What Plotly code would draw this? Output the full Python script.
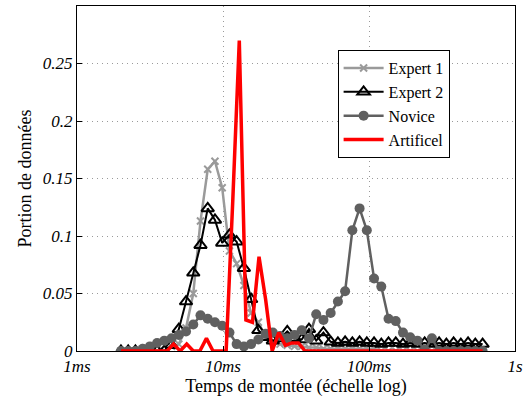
import plotly.graph_objects as go

# Bin centres (ms) shared by the three measured series
bins_ms = [2.000, 2.242, 2.512, 2.816, 3.156, 3.537, 3.965, 4.444, 4.981, 5.582,
           6.257, 7.012, 7.860, 8.809, 9.873, 11.07, 12.40, 13.90, 15.58, 17.46,
           19.57, 21.94, 24.59, 27.56, 30.89, 34.62, 38.80, 43.49, 48.74, 54.63,
           61.23, 68.62, 76.91, 86.20, 96.62, 108.3, 121.4, 136.0, 152.5, 170.9,
           191.5, 214.7, 240.6, 269.7, 302.3, 338.8, 379.7, 425.6, 477.0, 534.6, 600.0]

expert1 = [0, 0, 0, 0, 0, 0, 0, 0.004, 0.006, 0.020,
           0.050, 0.113, 0.158, 0.165, 0.142, 0.087, 0.076, 0.057, 0.033, 0.025,
           0.012, 0.008, 0.006, 0.005, 0.004, 0.004, 0.003, 0.003, 0.002, 0.002,
           0.002, 0.002, 0.002, 0.002, 0.002, 0.002, 0, 0, 0, 0,
           0, 0, 0, 0, 0, 0, 0, 0, 0, 0, 0]

expert2 = [0, 0, 0, 0, 0, 0, 0, 0.005, 0.019, 0.043,
           0.068, 0.092, 0.124, 0.114, 0.094, 0.101, 0.095, 0.072, 0.045, 0.018,
           0.012, 0.009, 0.011, 0.017, 0.011, 0.010, 0.019, 0.009, 0.016, 0.008,
           0.007, 0.008, 0.007, 0.008, 0.007, 0.007, 0.006, 0.007, 0.007, 0.006,
           0.007, 0.006, 0.007, 0.006, 0.007, 0.006, 0.007, 0.006, 0.007, 0.006, 0.006]

novice = [0, 0, 0, 0.002, 0.004, 0.007, 0.009, 0.011, 0.014, 0.017,
          0.023, 0.031, 0.028, 0.025, 0.022, 0.016, 0.006, 0.004, 0.006, 0.010,
          0.015, 0.016, 0.013, 0.011, 0.014, 0.018, 0.011, 0.032, 0.027, 0.033,
          0.043, 0.052, 0.105, 0.124, 0.105, 0.063, 0.056, 0.028, 0.026, 0.016,
          0.012, 0.009, 0.001, 0.011, 0, 0, 0, 0, 0, 0, 0]

# Artificial series has its own (finer) bins
art_ms = [2.000, 2.219, 2.461, 2.730, 3.028, 3.359, 3.726, 4.134, 4.585, 5.086,
          5.642, 6.259, 6.942, 7.701, 8.543, 9.476, 10.51, 11.66, 12.93, 14.35,
          15.92, 17.65, 19.58, 21.72, 24.10, 26.73, 29.65, 32.89, 36.49, 40.47,
          44.89, 49.80, 55.24, 61.28, 67.97, 75.40, 83.64, 92.78, 102.9, 114.2,
          126.6, 140.5, 155.8, 172.9, 191.7, 212.7, 235.9, 261.7, 290.3, 322.0,
          357.2, 396.3, 439.6, 487.6, 540.9, 600.0]
artificiel = [0, 0, 0, 0, 0, 0, 0, 0, 0.006, 0,
              0.006, 0, 0, 0.011, 0, 0, 0, 0.13, 0.270, 0.027,
              0.025, 0.082, 0.045, 0, 0.016, 0.005, 0.007, 0.007, 0, 0,
              0, 0, 0, 0, 0, 0, 0, 0, 0, 0,
              0, 0, 0, 0, 0, 0, 0, 0, 0, 0,
              0, 0, 0, 0, 0, 0]

x_tickvals = [1, 10, 100, 1000]
x_ticktext = ["1ms", "10ms", "100ms", "1s"]
y_tickvals = [0, 0.05, 0.1, 0.15, 0.2, 0.25]
y_ticktext = ["0", "0.05", "0.1", "0.15", "0.2", "0.25"]

SERIF = "Liberation Serif"

fig = go.Figure()
fig.add_trace(go.Scatter(
    x=bins_ms, y=expert1, name="Expert 1", mode="lines+markers",
    line=dict(color="#9a9a9a", width=2.5),
    marker=dict(symbol="x-thin", size=7, color="#9a9a9a",
                line=dict(color="#9a9a9a", width=2))))
fig.add_trace(go.Scatter(
    x=bins_ms, y=expert2, name="Expert 2", mode="lines+markers",
    line=dict(color="black", width=2),
    marker=dict(symbol="triangle-up-open", size=11, color="black",
                line=dict(color="black", width=2))))
fig.add_trace(go.Scatter(
    x=bins_ms, y=novice, name="Novice", mode="lines+markers",
    line=dict(color="#606060", width=2.5),
    marker=dict(symbol="circle", size=10, color="#606060")))
fig.add_trace(go.Scatter(
    x=art_ms, y=artificiel, name="Artificel", mode="lines",
    line=dict(color="#ff0000", width=3.5)))

fig.update_layout(
    width=531, height=401,
    margin=dict(l=77, r=16, t=6, b=50),
    paper_bgcolor="white", plot_bgcolor="white",
    font=dict(family=SERIF, size=16, color="black"),
    showlegend=True,
    legend=dict(x=0.595, y=0.872, xanchor="left", yanchor="top",
                bgcolor="white", bordercolor="black", borderwidth=1,
                font=dict(family=SERIF, size=16, color="black"),
                tracegroupgap=0, itemwidth=40),
    xaxis=dict(type="log", range=[0, 3],
               tickvals=x_tickvals, ticktext=x_ticktext,
               tickfont=dict(family=SERIF, size=17, style="italic"),
               showgrid=True, gridcolor="#9a9a9a", griddash="1px,4px", gridwidth=1,
               showline=True, linecolor="black", linewidth=1, mirror=True,
               ticks="inside", ticklen=5, tickcolor="black",
               zeroline=False,
               title=dict(text="Temps de montée (échelle log)",
                          font=dict(family=SERIF, size=18), standoff=2)),
    yaxis=dict(range=[0, 0.3],
               tickvals=y_tickvals, ticktext=y_ticktext,
               tickfont=dict(family=SERIF, size=17, style="italic"),
               showgrid=True, gridcolor="#9a9a9a", griddash="1px,4px", gridwidth=1,
               showline=True, linecolor="black", linewidth=1, mirror=True,
               ticks="inside", ticklen=5, tickcolor="black",
               zeroline=False,
               title=dict(text="Portion de données",
                          font=dict(family=SERIF, size=18), standoff=6)),
)

fig.write_html("out.html",
               config={"displayModeBar": False},
               post_script="document.body.style.margin='0';document.body.style.overflow='hidden';")
